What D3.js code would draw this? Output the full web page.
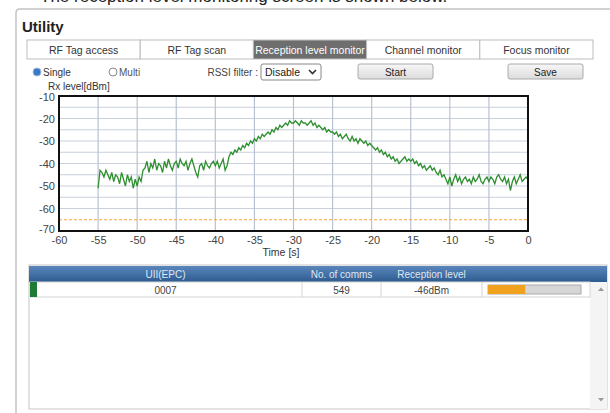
<!DOCTYPE html>
<html>
<head>
<meta charset="utf-8">
<script src="https://cdn.jsdelivr.net/npm/d3@7"></script>
<style>
body { margin: 0; background: #fff; }
text { font-family: "Liberation Sans", Arial, sans-serif; }
</style>
</head>
<body>
<script>
const tabs = ['RF Tag access', 'RF Tag scan', 'Reception level monitor', 'Channel monitor', 'Focus monitor'];
const activeTab = 'Reception level monitor';

const xTicks = [-60, -55, -50, -45, -40, -35, -30, -25, -20, -15, -10, -5, 0];
const yTicks = [-10, -20, -30, -40, -50, -60, -70];
const thresholdLevel = -65;

// one sample every 0.25 s, starting at -55 s
const sampleStart = -55;
const sampleStep = 0.25;
const rxLevel = [
  -51, -43, -44, -46, -43, -45, -47, -44, -48, -45, -46, -49, -44, -47, -50, -45, -48, -46, -51, -47,
  -50, -46, -48, -43, -42, -39, -44, -40, -42, -38, -43, -40, -41, -44, -39, -42, -38, -41, -43, -40,
  -39, -42, -38, -40, -41, -39, -43, -40, -38, -41, -44, -46, -41, -40, -43, -39, -41, -42, -40, -39,
  -41, -39, -42, -40, -38, -43, -41, -37, -35, -36, -34, -35, -33, -34, -32, -33, -31, -32, -30, -31,
  -29, -30, -28, -29, -27, -28, -27, -26, -27, -25, -26, -24, -25, -23, -24, -23, -22, -23, -21, -22,
  -22, -21, -22, -23, -21, -22, -22, -23, -22, -21, -23, -22, -24, -23, -24, -25, -24, -26, -25, -26,
  -26, -27, -26, -28, -27, -29, -28, -27, -29, -30, -28, -30, -29, -31, -29, -30, -31, -30, -32, -31,
  -32, -33, -34, -33, -35, -34, -36, -35, -37, -36, -38, -37, -39, -38, -40, -39, -38, -37, -39, -38,
  -39, -38, -40, -39, -41, -40, -42, -41, -43, -42, -41, -43, -42, -44, -45, -43, -46, -45, -47, -49,
  -46, -50, -47, -45, -48, -46, -49, -47, -46, -48, -47, -49, -46, -48, -47, -45, -48, -49, -47, -46,
  -48, -46, -47, -49, -46, -45, -47, -48, -46, -49, -47, -52, -48, -46, -49, -47, -45, -48, -47, -46,
  -47
];

const columns = ['UII(EPC)', 'No. of comms', 'Reception level', ''];
const rowValues = ['0007', '549', '-46dBm'];
const rowLevel = -46;

const svg = d3.select('body').append('svg').attr('width', 610).attr('height', 413);

const defs = svg.append('defs');
const hg = defs.append('linearGradient').attr('id', 'head').attr('x1', 0).attr('y1', 0).attr('x2', 0).attr('y2', 1);
hg.append('stop').attr('offset', '0%').attr('stop-color', '#5a86bb');
hg.append('stop').attr('offset', '100%').attr('stop-color', '#2d5b90');
const bg = defs.append('linearGradient').attr('id', 'btn').attr('x1', 0).attr('y1', 0).attr('x2', 0).attr('y2', 1);
bg.append('stop').attr('offset', '0%').attr('stop-color', '#f7f7f7');
bg.append('stop').attr('offset', '100%').attr('stop-color', '#dcdcdc');

// caption cut off at the top of the photo
svg.append('text').attr('x', 40).attr('y', 2).style('font-size', '17px').style('fill', '#222')
  .text('The reception level monitoring screen is shown below.');

// panel
svg.append('path').attr('d', 'M16,413 V13 Q16,9 20,9 H610').style('fill', 'none').style('stroke', '#c4c4c4').style('stroke-width', 1.5);
svg.append('text').attr('x', 22).attr('y', 32).text('Utility').style('font-size', '15px').style('font-weight', 'bold').style('fill', '#222');

// tabs
const tabX = d3.scaleBand().domain(tabs).range([27, 593]);
const tabG = svg.append('g').attr('transform', 'translate(0,40)');
tabG.selectAll('rect').data(tabs).join('rect')
  .attr('x', d => tabX(d)).attr('y', 0).attr('width', tabX.bandwidth()).attr('height', 19)
  .style('fill', d => d === activeTab ? '#6e6e6e' : '#fff').style('stroke', '#bdbdbd');
tabG.selectAll('text').data(tabs).join('text')
  .attr('x', d => tabX(d) + tabX.bandwidth() / 2).attr('y', 13.5).attr('text-anchor', 'middle')
  .style('font-size', '10.5px').style('fill', d => d === activeTab ? '#fff' : '#333').text(d => d);

// controls row
const ctl = svg.append('g');
ctl.append('circle').attr('cx', 37).attr('cy', 72).attr('r', 4).style('fill', '#3a78c9').style('stroke', '#9db7d8');
ctl.append('text').attr('x', 43).attr('y', 76).text('Single').style('font-size', '10px').style('fill', '#333');
ctl.append('circle').attr('cx', 113).attr('cy', 72).attr('r', 4).style('fill', '#fff').style('stroke', '#888');
ctl.append('text').attr('x', 119).attr('y', 76).text('Multi').style('font-size', '10px').style('fill', '#555');
ctl.append('text').attr('x', 258).attr('y', 76).attr('text-anchor', 'end').text('RSSI filter :').style('font-size', '10px').style('fill', '#444');
ctl.append('rect').attr('x', 261).attr('y', 64).attr('width', 60).attr('height', 16).attr('rx', 2).style('fill', '#fff').style('stroke', '#888');
ctl.append('text').attr('x', 265).attr('y', 76).text('Disable').style('font-size', '10.5px').style('fill', '#222');
ctl.append('path').attr('d', 'M309,70 L312.5,73.5 L316,70').style('fill', 'none').style('stroke', '#333').style('stroke-width', 1.6);
[['Start', 358], ['Save', 508]].forEach(b => {
  ctl.append('rect').attr('x', b[1]).attr('y', 64).attr('width', 75).attr('height', 15).attr('rx', 2).style('fill', 'url(#btn)').style('stroke', '#aaa');
  ctl.append('text').attr('x', b[1] + 37.5).attr('y', 75.5).attr('text-anchor', 'middle').text(b[0]).style('font-size', '10px').style('fill', '#222');
});

// chart
const x = d3.scaleLinear().domain([-60, 0]).range([59, 528]);
const y = d3.scaleLinear().domain([-70, -10]).range([231, 96]);
const chart = svg.append('g');

chart.append('text').attr('x', 48).attr('y', 90).text('Rx level[dBm]').style('font-size', '10px').style('fill', '#333');

chart.selectAll('.hgrid').data(d3.range(-60, -10, 5)).join('line').attr('class', 'hgrid')
  .attr('x1', x(-60)).attr('x2', x(0)).attr('y1', d => y(d)).attr('y2', d => y(d))
  .style('stroke', '#c9d0dc').style('stroke-width', 1.2);
chart.selectAll('.vgrid').data(xTicks.slice(1, -1)).join('line').attr('class', 'vgrid')
  .attr('x1', d => x(d)).attr('x2', d => x(d)).attr('y1', y(-10)).attr('y2', y(-70))
  .style('stroke', '#b9c2d2').style('stroke-width', 1.2);

chart.append('line').attr('x1', x(-60)).attr('x2', x(0)).attr('y1', y(thresholdLevel)).attr('y2', y(thresholdLevel))
  .style('stroke', '#f5a73a').style('stroke-dasharray', '3,2').style('stroke-width', 1.2);

const line = d3.line().x((d, i) => x(sampleStart + i * sampleStep)).y(d => y(d));
chart.append('path').datum(rxLevel).attr('d', line)
  .style('fill', 'none').style('stroke', '#2f8f30').style('stroke-width', 1.3);

chart.append('rect').attr('x', x(-60)).attr('y', y(-10)).attr('width', x(0) - x(-60)).attr('height', y(-70) - y(-10))
  .style('fill', 'none').style('stroke', '#111').style('stroke-width', 2);

const yAxis = chart.append('g').attr('transform', `translate(${x(-60)},0)`)
  .call(d3.axisLeft(y).tickValues(yTicks).tickFormat(d => String(d)).tickSize(0).tickPadding(4));
const xAxis = chart.append('g').attr('transform', `translate(0,${y(-70)})`)
  .call(d3.axisBottom(x).tickValues(xTicks).tickFormat(d => String(d)).tickSize(0).tickPadding(5));
[yAxis, xAxis].forEach(a => {
  a.select('.domain').remove();
  a.selectAll('text').style('font-size', '11px').style('fill', '#444').style('font-family', '"Liberation Sans", Arial, sans-serif');
});
yAxis.selectAll('text').filter(d => d === -10).attr('dy', '0.45em');
yAxis.selectAll('text').filter(d => d === -70).attr('dy', '0.15em');

chart.append('text').attr('x', 281).attr('y', 256).attr('text-anchor', 'middle').text('Time [s]').style('font-size', '10.5px').style('fill', '#333');

// table
const colEdges = [29, 302, 381, 482, 590];
const table = svg.append('g');
table.append('rect').attr('x', 29).attr('y', 265).attr('width', 578).attr('height', 144).style('fill', '#fff').style('stroke', '#c6c6c6');
table.append('rect').attr('x', 590).attr('y', 282).attr('width', 17).attr('height', 127).style('fill', '#f4f4f4');
table.append('rect').attr('x', 29).attr('y', 266).attr('width', 578).attr('height', 16).style('fill', 'url(#head)');
table.selectAll('.hd').data(columns).join('text').attr('class', 'hd')
  .attr('x', (d, i) => (colEdges[i] + colEdges[i + 1]) / 2).attr('y', 277.5).attr('text-anchor', 'middle')
  .style('font-size', '10px').style('fill', '#dfe7f1').text(d => d);

table.append('rect').attr('x', 30).attr('y', 282).attr('width', 560).attr('height', 15).style('fill', '#fff').style('stroke', '#d4d4d4');
table.append('rect').attr('x', 30).attr('y', 282).attr('width', 7).attr('height', 15).style('fill', '#1f7a33');
table.selectAll('.sep').data(colEdges.slice(1, 4)).join('line').attr('class', 'sep')
  .attr('x1', d => d).attr('x2', d => d).attr('y1', 282).attr('y2', 297).style('stroke', '#d4d4d4');
table.selectAll('.cell').data(rowValues).join('text').attr('class', 'cell')
  .attr('x', (d, i) => (colEdges[i] + colEdges[i + 1]) / 2).attr('y', 293.5).attr('text-anchor', 'middle')
  .style('font-size', '10px').style('fill', '#444').text(d => d);

const levelBar = d3.scaleLinear().domain([-70, -10]).range([0, 93]);
table.append('rect').attr('x', 488).attr('y', 285).attr('width', levelBar(-10)).attr('height', 9).style('fill', '#d6d6d6').style('stroke', '#aaa');
table.append('rect').attr('x', 488).attr('y', 285).attr('width', levelBar(rowLevel)).attr('height', 9).style('fill', '#f0a21f');

table.append('path').attr('d', 'M598,291 L601,287.5 L604,291 Z').style('fill', '#9a9a9a');
table.append('path').attr('d', 'M598,398 L601,401.5 L604,398 Z').style('fill', '#9a9a9a');
</script>
</body>
</html>
